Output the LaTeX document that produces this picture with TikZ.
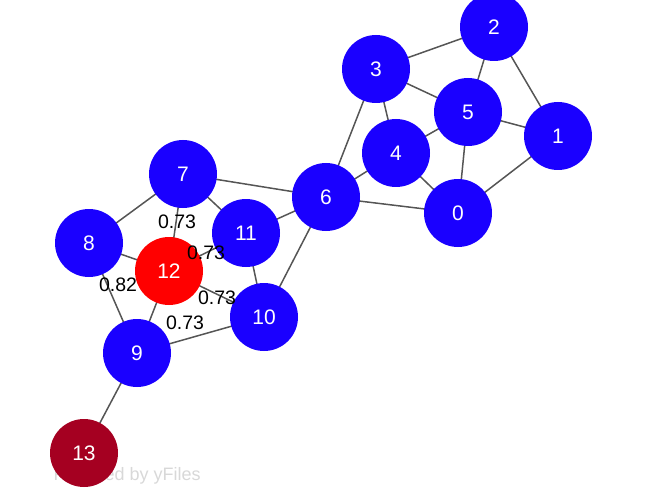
\documentclass[tikz,border=0pt]{standalone}
\usepackage{fontspec}
\setmainfont{Liberation Sans}
\definecolor{nblue}{HTML}{1A00FF}
\definecolor{nred}{HTML}{FF0000}
\definecolor{ndark}{HTML}{A50021}
\definecolor{edgec}{HTML}{555555}
\definecolor{wm}{HTML}{D8D8D8}
\begin{document}
\begin{tikzpicture}[x=1pt,y=-1pt,
  vtx/.style={circle,fill=nblue,minimum size=68pt,inner sep=0pt,text=white,font=\fontsize{21}{21}\selectfont},
  edge/.style={draw=edgec,line width=1.5pt},
  elab/.style={font=\fontsize{19.5}{19.5}\selectfont,text=black,inner sep=0pt}]
\useasboundingbox (0,0) rectangle (650,497);
\node[font=\fontsize{18}{18}\selectfont,text=wm,anchor=west] (wmk) at (50,476) {Powered by yFiles};
\coordinate (c0) at (458,213);
\coordinate (c1) at (558,136);
\coordinate (c2) at (494,27);
\coordinate (c3) at (376,69);
\coordinate (c4) at (396,153);
\coordinate (c5) at (468,112);
\coordinate (c6) at (326,197);
\coordinate (c7) at (183,174);
\coordinate (c8) at (89,243);
\coordinate (c9) at (137,353);
\coordinate (c10) at (264,317);
\coordinate (c11) at (246,233);
\coordinate (c12) at (169,271);
\coordinate (c13) at (84,453);
\foreach \a/\b in {2/3,2/5,2/1,3/5,3/4,3/6,5/4,5/1,5/0,1/0,4/0,4/6,6/0,6/7,6/11,6/10,7/8,7/11,7/12,8/12,8/9,12/9,12/10,12/11,11/10,9/10,9/13}
  \draw[edge] (c\a) -- (c\b);
\foreach \i in {0,...,11}
  \node[vtx] (n\i) at (c\i) {\i};
\node[vtx,fill=nred] (n12) at (c12) {12};
\node[vtx,fill=ndark] (n13) at (c13) {13};
\node[elab] (l1) at (177,222) {0.73};
\node[elab] (l2) at (206,253) {0.73};
\node[elab] (l3) at (118,285) {0.82};
\node[elab] (l4) at (217,298) {0.73};
\node[elab] (l5) at (185,323) {0.73};
\end{tikzpicture}
\end{document}
